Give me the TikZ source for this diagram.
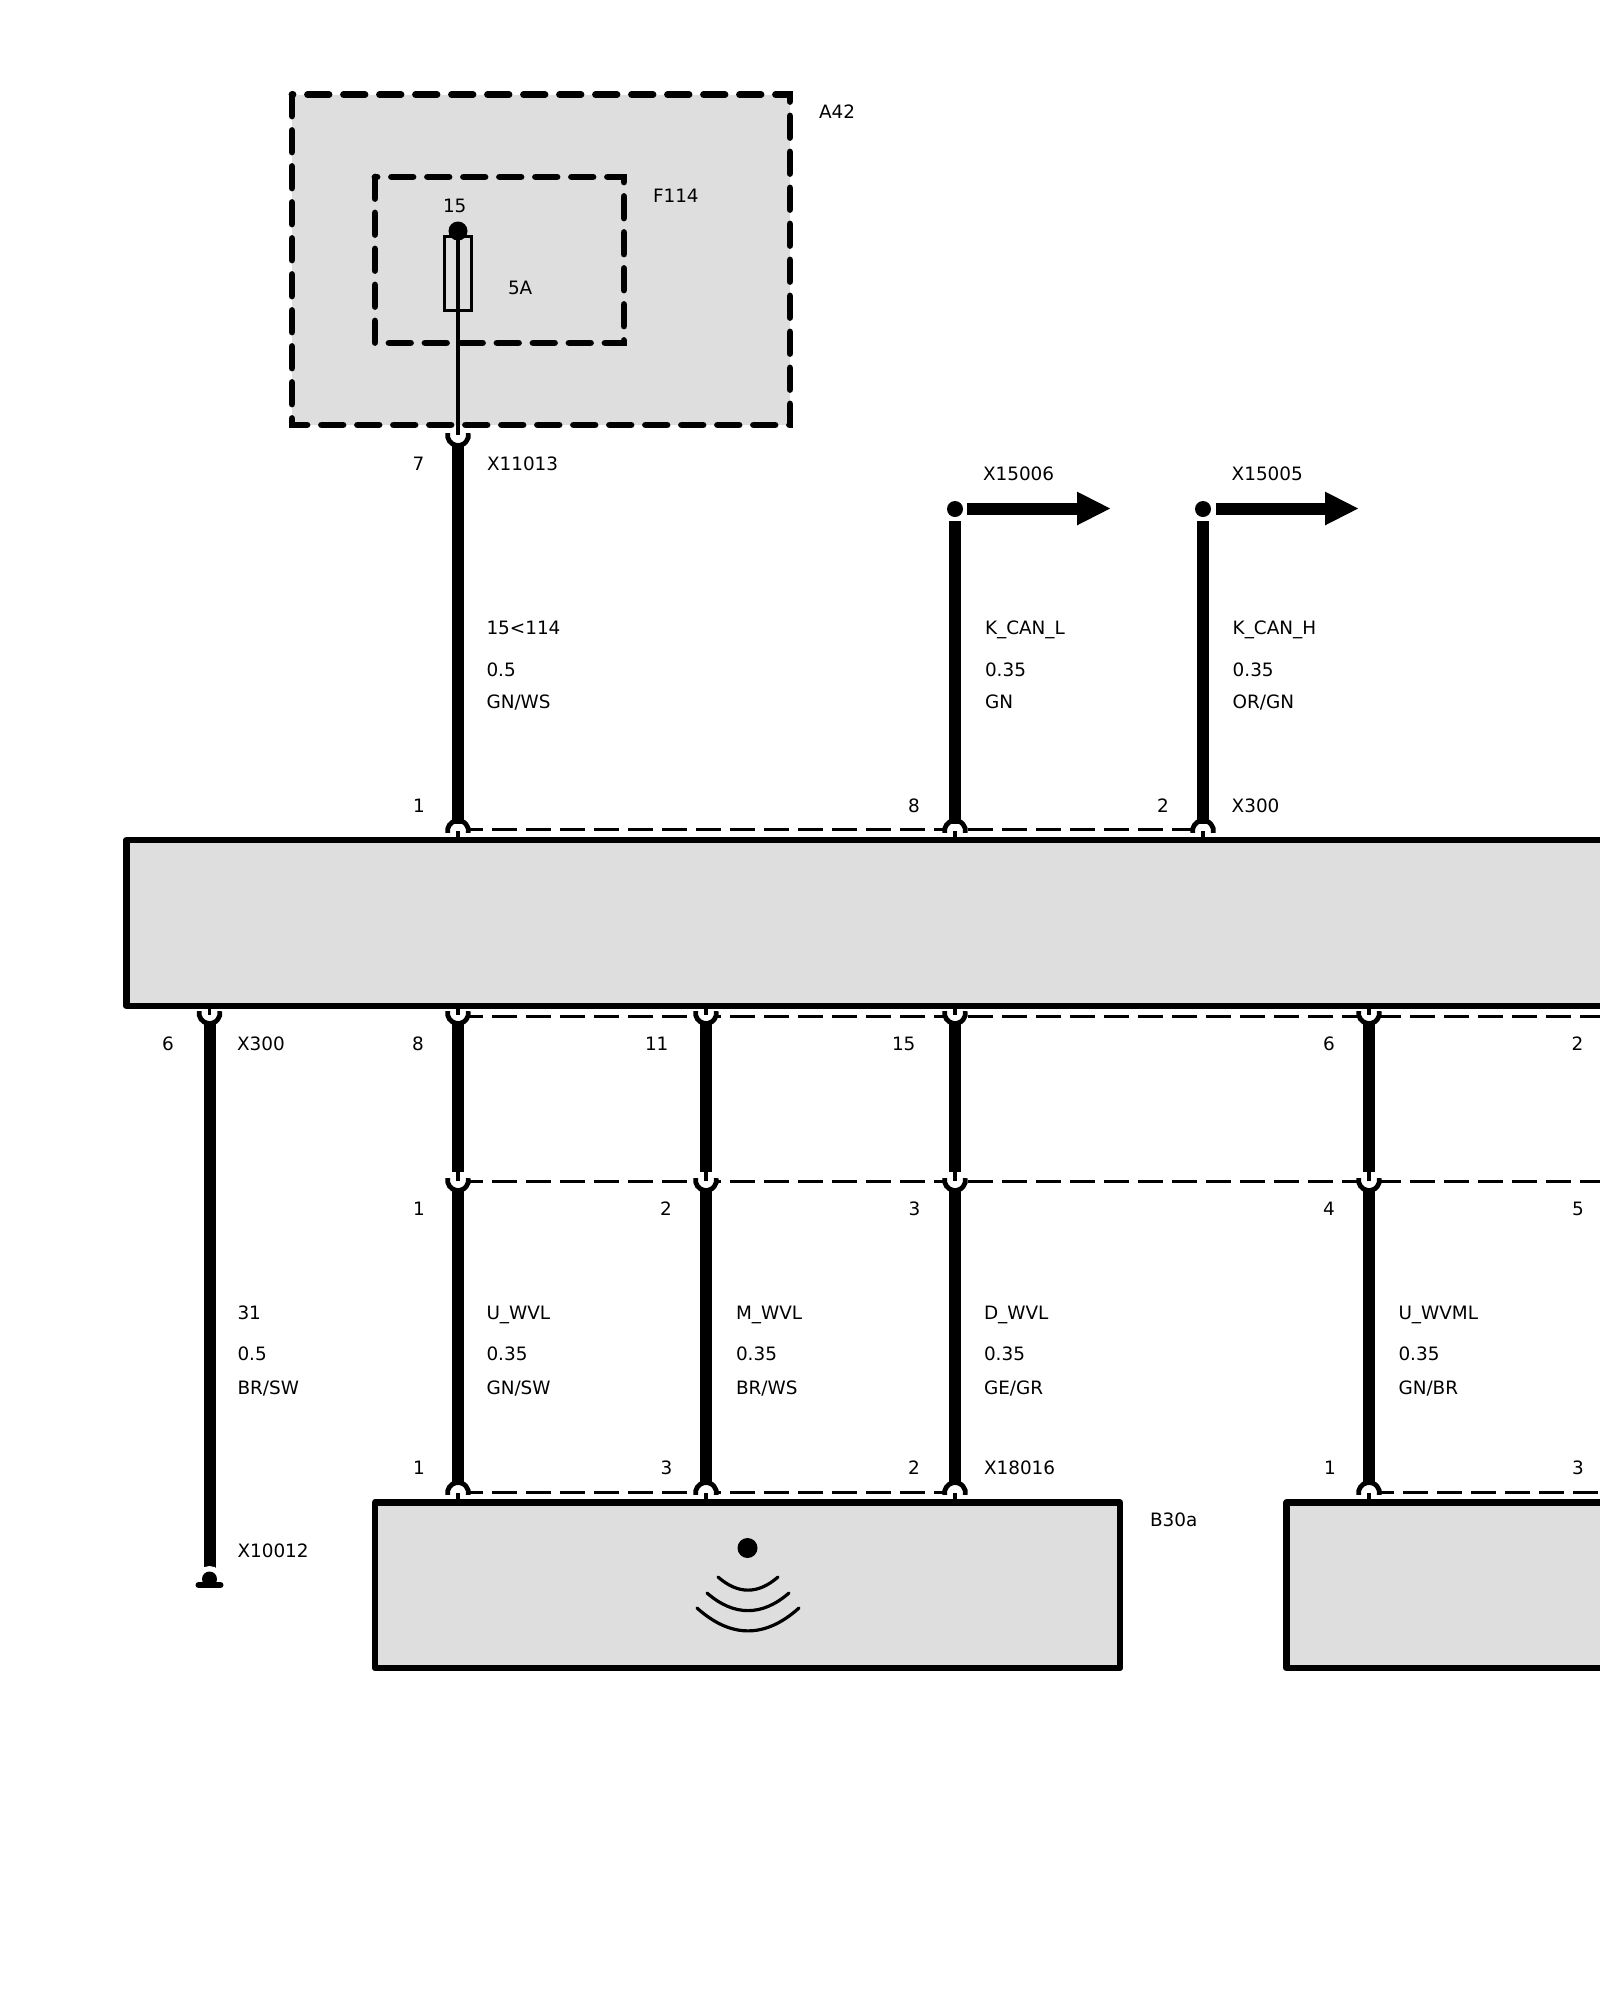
\documentclass[tikz,border=0pt]{standalone}
\usepackage{fontspec}
\setmainfont{DejaVu Sans}
\usetikzlibrary{arrows.meta}
\definecolor{boxgray}{HTML}{DEDEDE}
\tikzset{
  lbl/.style={font=\fontsize{18.4}{20}\selectfont,anchor=base west,inner sep=0pt,outer sep=0pt},
  unitbox/.style={draw=black,fill=boxgray,line width=6.5pt,line join=round},
  dashbox/.style={draw=black,line width=6.8pt,line cap=round,dash pattern=on 21.5pt off 14.5pt},
  wire/.style={line width=12pt},
  thinwire/.style={line width=3.2pt},
  fork/.style={line width=4.8pt},
  stub/.style={line width=3.2pt},
  bus/.style={line width=3pt,dash pattern=on 25.3pt off 8.7pt},
  fusebox/.style={draw=black,line width=3pt,minimum width=27pt,minimum height=74pt,inner sep=0pt},
  bigarrow/.style={line width=12pt,-{Triangle[length=34pt,width=31pt]}},
  waves/.style={line width=3.2pt,line cap=round}
}
\begin{document}
\begin{tikzpicture}[x=1pt,y=-1pt]
  \useasboundingbox (0,0) rectangle (1600,2000);
  \clip (0,0) rectangle (1600,2000);
  % fuse carrier
  \fill[boxgray] (292,94.5) rectangle (790,425);
  \draw[dashbox] (292,94.5) rectangle (790,425);
  \draw[dashbox] (375,177) rectangle (624,343);
  \node[fusebox] (fuse) at (457.5,273) {};
  \coordinate (fuse15) at (458,231);
  \coordinate (fuseout) at (458,435);
  \draw[thinwire] (fuse15) -- (fuseout);
  \fill (fuse15) circle (9.5pt);
  % dashed connector lines
  \coordinate (busa) at (458,829.5);   \coordinate (busb) at (1203,829.5);
  \coordinate (busc) at (458,1016);    \coordinate (busd) at (1600,1016);
  \coordinate (buse) at (458,1181);    \coordinate (busf) at (1600,1181);
  \coordinate (busg) at (458,1492);    \coordinate (bush) at (955,1492);
  \coordinate (busi) at (1369,1492);   \coordinate (busj) at (1600,1492);
  \draw[bus] (busa) -- (busb);
  \draw[bus] (busc) -- (busd);
  \draw[bus] (buse) -- (busf);
  \draw[bus] (busg) -- (bush);
  \draw[bus] (busi) -- (busj);
  % halos under the forks
  \foreach \px in {458,955,1203} \fill[white] (\px,831) circle (10.5pt);
  \foreach \px in {209.5,458,706,955,1369} \fill[white] (\px,1013) circle (10.5pt);
  \foreach \px in {458,706,955,1369} \fill[white] (\px,1180) circle (10.5pt);
  \foreach \px in {458,706,955,1369} \fill[white] (\px,1493) circle (10.5pt);
  % units
  \draw[unitbox] (126.5,840) rectangle (1700,1006);
  \draw[unitbox] (375,1502.5) rectangle (1120,1668);
  \draw[unitbox] (1286.5,1502.5) rectangle (1700,1668);
  % wires down to the unit
  \coordinate (x11013p7) at (458,444);
  \coordinate (x15006) at (955,521);
  \coordinate (x15005) at (1203,521);
  \coordinate (x300a) at (458,824);
  \coordinate (x300b) at (955,824);
  \coordinate (x300c) at (1203,824);
  \draw[wire] (x11013p7) -- (x300a);
  \draw[wire] (x15006) -- (x300b);
  \draw[wire] (x15005) -- (x300c);
  % forks on top of a unit
  \foreach \px/\py in {458/831,955/831,1203/831,458/1493,706/1493,955/1493,1369/1493} {
    \draw[fork] (\px,\py) ++(190:10.5pt) arc[start angle=190,end angle=-10,radius=10.5pt];
    \draw[stub] (\px,\py) -- (\px,\py+8);
  }
  % forks open upward
  \foreach \px/\py in {458/435,209.5/1013,458/1013,706/1013,955/1013,1369/1013,458/1180,706/1180,955/1180,1369/1180} {
    \draw[fork] (\px,\py) ++(170:10.5pt) arc[start angle=170,end angle=370,radius=10.5pt];
  }
  \foreach \px in {209.5,458,706,955,1369} \draw[stub] (\px,1008) -- (\px,1015);
  \foreach \px in {458,706,955,1369} \draw[stub] (\px,1170) -- (\px,1181);
  % wires below the unit
  \foreach \nm/\px in {u/458,m/706,d/955,v/1369} {
    \coordinate (\nm top) at (\px,1022);
    \coordinate (\nm mid) at (\px,1172);
    \coordinate (\nm low) at (\px,1188);
    \coordinate (\nm end) at (\px,1485);
    \draw[wire] (\nm top) -- (\nm mid);
    \draw[wire] (\nm low) -- (\nm end);
  }
  % ground wire
  \coordinate (gndtop) at (209.5,1022);
  \coordinate (x10012) at (209.5,1579);
  \draw[wire] (gndtop) -- (x10012);
  \fill[white] (x10012) circle (13pt);
  \fill (x10012) circle (7.5pt);
  \draw[line width=6pt,line cap=round] (198.5,1585) -- (220.5,1585);
  % bus arrows
  \coordinate (x15006a) at (967,508.5);   \coordinate (x15006b) at (1111,508.5);
  \coordinate (x15005a) at (1216,508.5);  \coordinate (x15005b) at (1359,508.5);
  \draw[bigarrow] (x15006a) -- (x15006b);
  \draw[bigarrow] (x15005a) -- (x15005b);
  \fill (955,509) circle (8pt);
  \fill (1203,509) circle (8pt);
  % sensor symbol
  \fill (747.5,1548) circle (10pt);
  \draw[waves] (718,1577) .. controls (738,1594.5) and (758,1594.5) .. (778,1577);
  \draw[waves] (707,1593) .. controls (734,1616.5) and (762,1616.5) .. (789,1593);
  \draw[waves] (697,1608) .. controls (731,1638.5) and (765,1638.5) .. (799,1608);
  % labels
  \foreach \nm/\px/\py/\txt in {
    a42/819/118.5/A42, f114/653/202/F114, pin15/443/212.5/15, amp/508/294.5/5A,
    pin7/412.5/470.7/7, x11013/487/470.7/X11013,
    x15006t/983/480.7/X15006, x15005t/1231.7/480.7/X15005,
    s15/486.5/634.5/15<114, q15/486.5/676.7/0.5, c15/486.5/708.5/{GN/WS},
    kl/985/634.5/K\_CAN\_L, qkl/985/676.7/0.35, ckl/985/708.5/GN,
    kh/1232.7/634.5/K\_CAN\_H, qkh/1232.7/676.7/0.35, ckh/1232.7/708.5/{OR/GN},
    up1/413/812.7/1, up8/908/812.7/8, up2/1157/812.7/2, x300t/1231.7/812.7/X300,
    lo6/162/1050.7/6, x300l/237/1050.7/X300, lo8/412/1050.7/8, lo11/645/1050.7/11,
    lo15/892/1050.7/15, lo6b/1323/1050.7/6, lo2b/1571.5/1050.7/2,
    sp1/413/1215.7/1, sp2/660/1215.7/2, sp3/908.5/1215.7/3, sp4/1323/1215.7/4, sp5/1572/1215.7/5,
    s31/237.5/1319/31, q31/237.5/1360.5/0.5, c31/237.5/1394.5/{BR/SW},
    su/486.5/1319/U\_WVL, qu/486.5/1360.5/0.35, cu/486.5/1394.5/{GN/SW},
    sm/736/1319/M\_WVL, qm/736/1360.5/0.35, cm/736/1394.5/{BR/WS},
    sd/984/1319/D\_WVL, qd/984/1360.5/0.35, cd/984/1394.5/{GE/GR},
    sv/1398.5/1319/U\_WVML, qv/1398.5/1360.5/0.35, cv/1398.5/1394.5/{GN/BR},
    b1/413/1474.5/1, b3/660.5/1474.5/3, b2/908/1474.5/2, x18016/984/1474.5/X18016,
    b1b/1324/1474.5/1, b3b/1572/1474.5/3,
    b30a/1150/1526.5/B30a, x10012t/237.5/1557/X10012}
    \node[lbl] (\nm) at (\px,\py) {\txt};
\end{tikzpicture}
\end{document}
